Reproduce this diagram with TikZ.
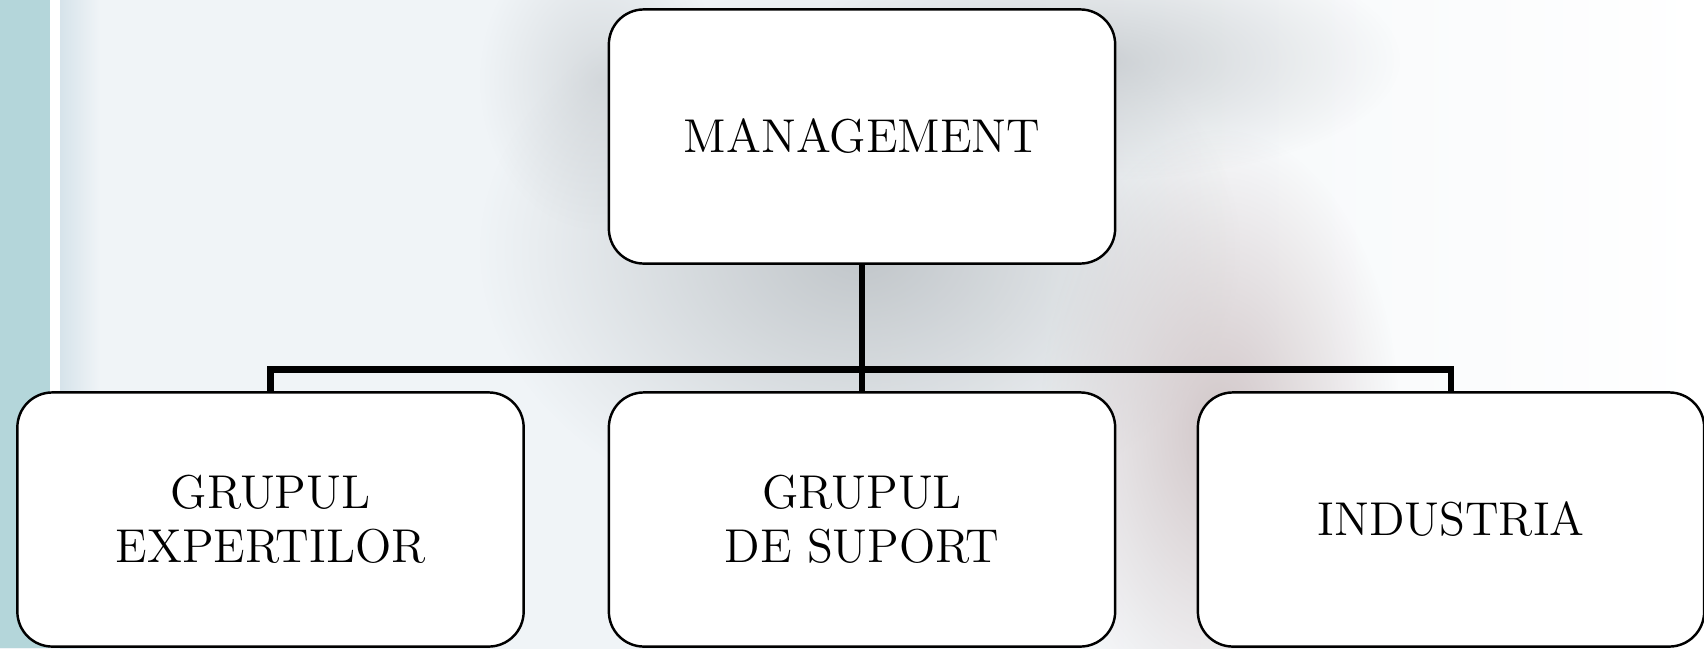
\documentclass[tikz,border=0pt]{standalone}
\usetikzlibrary{positioning,fadings}
\definecolor{bgleft}{RGB}{240,244,247}
\definecolor{tealband}{RGB}{180,214,218}
\definecolor{stripe}{RGB}{214,227,234}
\definecolor{photogray}{RGB}{188,193,197}
\definecolor{photopink}{RGB}{200,186,188}
\tikzfading[name=fuzzy, inner color=transparent!0, outer color=transparent!100]
\tikzset{
  orgbox/.style={draw=black, line width=0.7pt, fill=white, rounded corners=0.35cm,
    minimum width=5.06cm, minimum height=2.54cm, align=center,
    font=\fontsize{13.5}{15.5}\selectfont},
  link/.style={line width=1.8pt, line join=miter},
  blob/.style={path fading=fuzzy, fill opacity=#1},
  blob/.default=0.8
}
\begin{document}
\begin{tikzpicture}[x=0.01cm,y=-0.01cm]
  % bounding box
  \useasboundingbox (0,0) rectangle (1704,648);
  \begin{scope}
    \clip (0,0) rectangle (1704,648);
    % blurred photo behind the chart
    \shade[left color=bgleft, right color=white, middle color=bgleft] (0,0) rectangle (1704,648);
    \fill[photogray, blob=0.9] (860,250) ellipse (380 and 280);
    \fill[photogray, blob=0.7] (1100,60) ellipse (300 and 120);
    \fill[photopink, blob=0.8] (1220,430) ellipse (180 and 300);
    \fill[photogray, blob=0.5] (600,80) ellipse (120 and 150);
    % left band
    \fill[tealband] (0,0) rectangle (50,648);
    \fill[white] (50,0) rectangle (60,648);
    \shade[left color=stripe, right color=bgleft] (60,0) rectangle (100,648);
  \end{scope}
  % boxes
  \node[orgbox] (mgmt) at (862,136.5) {MANAGEMENT};
  \node[orgbox] (exp) at (270.5,519.5) {GRUPUL\\EXPERTILOR};
  \node[orgbox] (sup) at (862,519.5) {GRUPUL\\DE SUPORT};
  \node[orgbox] (ind) at (1451,519.5) {INDUSTRIA};
  % connectors
  \coordinate (bus) at (862,369.5);
  \draw[link] (exp.north) |- (bus) -| (ind.north);
  \draw[link] (mgmt.south) -- (sup.north);
\end{tikzpicture}
\end{document}
